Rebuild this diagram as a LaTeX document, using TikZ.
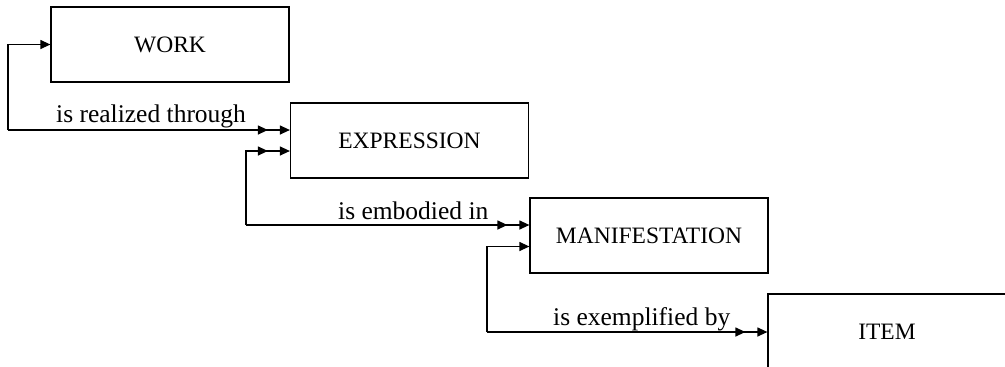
\documentclass[tikz,border=0pt]{standalone}
\usepackage{fontspec}
\setmainfont{Liberation Serif}
\usetikzlibrary{arrows.meta,decorations.markings}
\tikzset{
  box/.style={draw, line width=1.2pt, minimum width=238pt, minimum height=75pt, inner sep=0pt, font=\fontsize{23.5pt}{27pt}\selectfont},
  lbl/.style={anchor=base west, inner sep=0pt, font=\fontsize{25.5pt}{29pt}\selectfont},
  tip/.tip={Triangle[length=10pt,width=9pt]},
  conn/.style={line width=1.2pt, -{tip}},
  dbl/.style={conn, postaction={decorate}, decoration={markings, mark=at position -22pt with {\arrow{tip}}}}
}
\begin{document}
\begin{tikzpicture}[x=1pt,y=-1pt]
\useasboundingbox (0,0) rectangle (1005,367);
\clip (0,0) rectangle (1005,367);
\node[box] (work) at (170,44.5) {WORK};
\node[box] (expr) at (409.5,140.5) {EXPRESSION};
\node[box] (manif) at (649,235.5) {MANIFESTATION};
\node[box] (item) at (887,331.5) {ITEM};
\coordinate (c1) at (8,130);
\coordinate (c2) at (246,225);
\coordinate (c3) at (487,332);
\draw[conn] (c1) |- (work.west);
\draw[dbl] (c1) -- (c1 -| expr.west);
\draw[dbl] (c2) |- ([yshift=-10.5pt]expr.west);
\draw[dbl] (c2) -- (c2 -| manif.west);
\draw[conn] (c3) |- ([yshift=-11pt]manif.west);
\draw[dbl] (c3) -- (c3 -| item.west);
\node[lbl] (l1) at (56,122) {is realized through};
\node[lbl] (l2) at (338,219) {is embodied in};
\node[lbl] (l3) at (553,325) {is exemplified by};
\end{tikzpicture}
\end{document}
